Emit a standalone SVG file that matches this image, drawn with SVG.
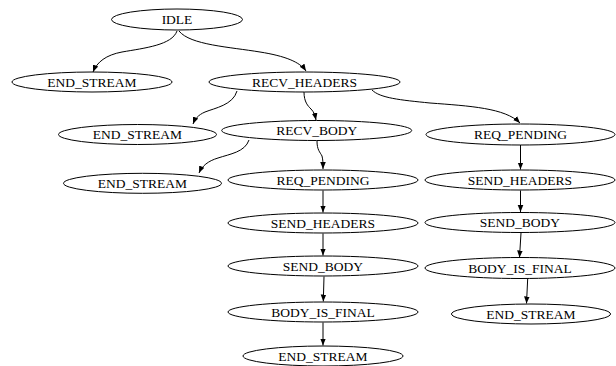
<svg xmlns="http://www.w3.org/2000/svg" width="616" height="366" viewBox="0 0 616 366">
<defs>
<marker id="ah" viewBox="0 0 10 10" refX="10" refY="5" markerWidth="7" markerHeight="7" markerUnits="userSpaceOnUse" orient="auto">
<path d="M0,1 L10,5 L0,9 Z" fill="#000"/>
</marker>
<style>
.n ellipse{fill:#fff;stroke:#000;stroke-width:1}
.n text{font-size:13.5px;text-anchor:middle;fill:#000}
.e path{fill:none;stroke:#000;stroke-width:1;marker-end:url(#ah)}
</style>
</defs>
<rect width="616" height="366" fill="#fff"/>
<g class="e" id="edges">
<path d="M177,31 C172,45 145,48 122,52 C106,55 97,62 93,72"/>
<path d="M179,31 C190,45 230,47 260,52 C285,56 300,62 306,71"/>
<path d="M237,91 C233,105 215,108 205,112 C198,115 195,119 193,124"/>
<path d="M304,92 C304,102 308,106 311,109 C314,112 315,115 316,120"/>
<path d="M372,90 C380,98 400,100 430,103 C470,106 505,108 520,123"/>
<path d="M249,140 C245,152 230,154 218,158 C208,161 202,166 199,173"/>
<path d="M317,141 C317,150 320,152 322,156 C323,160 323,163 323,169"/>
<path d="M323,190.5 L323,212.5"/>
<path d="M323,233.5 L323,255.5"/>
<path d="M324,276.5 L323.3,301.5"/>
<path d="M323,322.5 L323,345.5"/>
<path d="M520.5,145 L520.5,169.5"/>
<path d="M520.5,190.5 L520.5,212"/>
<path d="M521,233 L519.5,257.5"/>
<path d="M527.7,278.5 L526.5,303.5"/>
</g>
<g font-family="'Liberation Serif', 'DejaVu Serif', serif">
<g class="n" id="idle"><ellipse cx="177" cy="19.5" rx="65.5" ry="10.5"/><text x="177" y="24.2">IDLE</text></g>
<g class="n" id="end1"><ellipse cx="92" cy="82" rx="80" ry="10"/><text x="92" y="86.7">END_STREAM</text></g>
<g class="n" id="recv_headers"><ellipse cx="304.5" cy="82" rx="95.5" ry="10"/><text x="304.5" y="86.7">RECV_HEADERS</text></g>
<g class="n" id="end2"><ellipse cx="137.5" cy="134.5" rx="79" ry="10"/><text x="137.5" y="139.2">END_STREAM</text></g>
<g class="n" id="recv_body"><ellipse cx="316.7" cy="130.5" rx="95" ry="10"/><text x="316.7" y="135.2">RECV_BODY</text></g>
<g class="n" id="req_pending_r"><ellipse cx="520.5" cy="134.5" rx="94.5" ry="10.5"/><text x="520.5" y="139.2">REQ_PENDING</text></g>
<g class="n" id="end3"><ellipse cx="142.5" cy="183.3" rx="79" ry="10"/><text x="142.5" y="188">END_STREAM</text></g>
<g class="n" id="req_pending_m"><ellipse cx="323" cy="180" rx="95" ry="10"/><text x="323" y="184.7">REQ_PENDING</text></g>
<g class="n" id="send_headers_r"><ellipse cx="520" cy="180" rx="95" ry="10"/><text x="520" y="184.7">SEND_HEADERS</text></g>
<g class="n" id="send_headers_m"><ellipse cx="323" cy="223" rx="95" ry="10"/><text x="323" y="227.7">SEND_HEADERS</text></g>
<g class="n" id="send_body_r"><ellipse cx="520" cy="222.5" rx="95" ry="10"/><text x="520" y="227.2">SEND_BODY</text></g>
<g class="n" id="send_body_m"><ellipse cx="323" cy="266" rx="95" ry="10"/><text x="323" y="270.7">SEND_BODY</text></g>
<g class="n" id="body_final_r"><ellipse cx="520" cy="268" rx="95" ry="10.5"/><text x="520" y="272.7">BODY_IS_FINAL</text></g>
<g class="n" id="body_final_m"><ellipse cx="323" cy="312" rx="95" ry="10"/><text x="323" y="316.7">BODY_IS_FINAL</text></g>
<g class="n" id="end_r"><ellipse cx="531" cy="314" rx="79.5" ry="10"/><text x="531" y="318.7">END_STREAM</text></g>
<g class="n" id="end_m"><ellipse cx="323" cy="356" rx="80" ry="10"/><text x="323" y="360.7">END_STREAM</text></g>
</g>
</svg>
